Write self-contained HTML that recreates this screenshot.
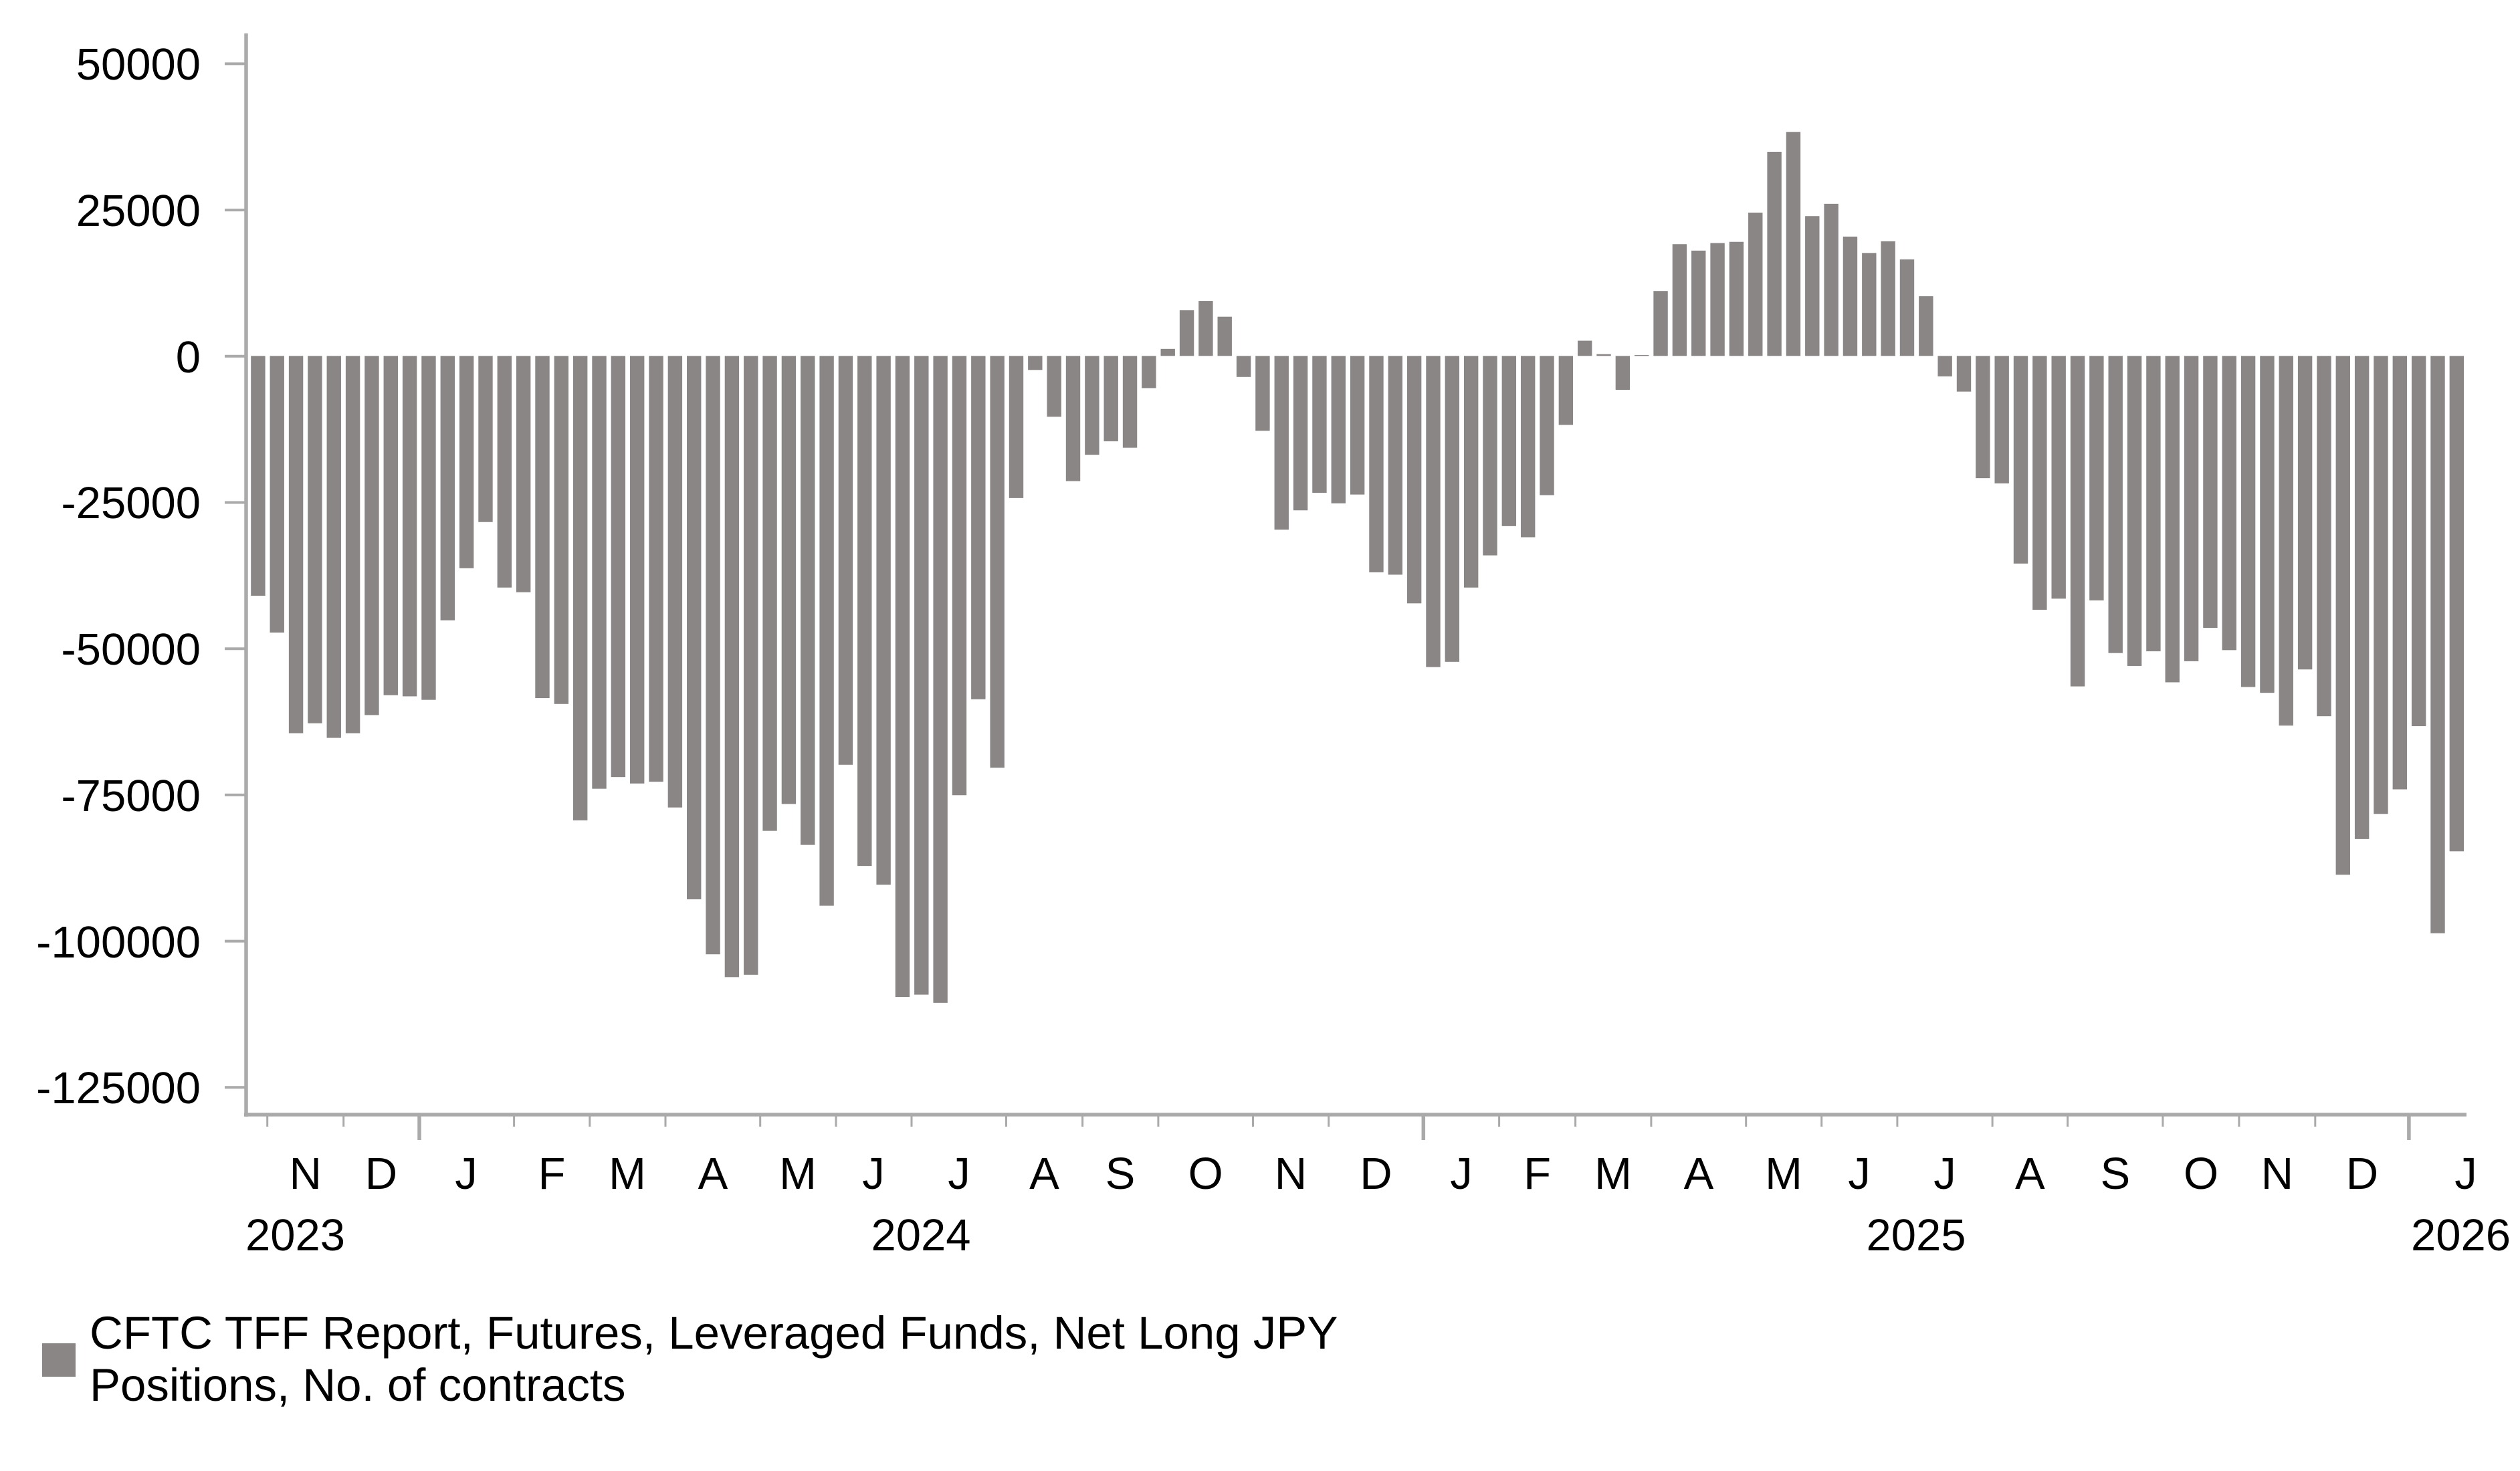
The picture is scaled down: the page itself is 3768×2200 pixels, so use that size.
<!DOCTYPE html>
<html><head><meta charset="utf-8"><style>
html,body{margin:0;padding:0;background:#fff;}
svg{display:block;}
text{font-family:"Liberation Sans",Arial,sans-serif;font-size:67px;fill:#000;}
.lg{font-size:69px;}
</style></head><body>
<svg width="3768" height="2200" viewBox="0 0 3768 2200" xmlns="http://www.w3.org/2000/svg">
<g fill="#8a8685" transform="translate(375.2,532.3) scale(28.34,-8.748)">
<rect x="0" y="-41.0" width="0.755" height="41.0"/>
<rect x="1" y="-47.3" width="0.755" height="47.3"/>
<rect x="2" y="-64.5" width="0.755" height="64.5"/>
<rect x="3" y="-62.8" width="0.755" height="62.8"/>
<rect x="4" y="-65.3" width="0.755" height="65.3"/>
<rect x="5" y="-64.5" width="0.755" height="64.5"/>
<rect x="6" y="-61.4" width="0.755" height="61.4"/>
<rect x="7" y="-58.0" width="0.755" height="58.0"/>
<rect x="8" y="-58.2" width="0.755" height="58.2"/>
<rect x="9" y="-58.8" width="0.755" height="58.8"/>
<rect x="10" y="-45.2" width="0.755" height="45.2"/>
<rect x="11" y="-36.3" width="0.755" height="36.3"/>
<rect x="12" y="-28.4" width="0.755" height="28.4"/>
<rect x="13" y="-39.6" width="0.755" height="39.6"/>
<rect x="14" y="-40.4" width="0.755" height="40.4"/>
<rect x="15" y="-58.5" width="0.755" height="58.5"/>
<rect x="16" y="-59.5" width="0.755" height="59.5"/>
<rect x="17" y="-79.4" width="0.755" height="79.4"/>
<rect x="18" y="-74.0" width="0.755" height="74.0"/>
<rect x="19" y="-72.0" width="0.755" height="72.0"/>
<rect x="20" y="-73.1" width="0.755" height="73.1"/>
<rect x="21" y="-72.8" width="0.755" height="72.8"/>
<rect x="22" y="-77.2" width="0.755" height="77.2"/>
<rect x="23" y="-92.9" width="0.755" height="92.9"/>
<rect x="24" y="-102.3" width="0.755" height="102.3"/>
<rect x="25" y="-106.2" width="0.755" height="106.2"/>
<rect x="26" y="-105.8" width="0.755" height="105.8"/>
<rect x="27" y="-81.2" width="0.755" height="81.2"/>
<rect x="28" y="-76.6" width="0.755" height="76.6"/>
<rect x="29" y="-83.6" width="0.755" height="83.6"/>
<rect x="30" y="-94.0" width="0.755" height="94.0"/>
<rect x="31" y="-69.9" width="0.755" height="69.9"/>
<rect x="32" y="-87.2" width="0.755" height="87.2"/>
<rect x="33" y="-90.4" width="0.755" height="90.4"/>
<rect x="34" y="-109.6" width="0.755" height="109.6"/>
<rect x="35" y="-109.2" width="0.755" height="109.2"/>
<rect x="36" y="-110.6" width="0.755" height="110.6"/>
<rect x="37" y="-75.1" width="0.755" height="75.1"/>
<rect x="38" y="-58.7" width="0.755" height="58.7"/>
<rect x="39" y="-70.4" width="0.755" height="70.4"/>
<rect x="40" y="-24.3" width="0.755" height="24.3"/>
<rect x="41" y="-2.4" width="0.755" height="2.4"/>
<rect x="42" y="-10.4" width="0.755" height="10.4"/>
<rect x="43" y="-21.4" width="0.755" height="21.4"/>
<rect x="44" y="-16.9" width="0.755" height="16.9"/>
<rect x="45" y="-14.6" width="0.755" height="14.6"/>
<rect x="46" y="-15.7" width="0.755" height="15.7"/>
<rect x="47" y="-5.5" width="0.755" height="5.5"/>
<rect x="48" y="0" width="0.755" height="1.2"/>
<rect x="49" y="0" width="0.755" height="7.8"/>
<rect x="50" y="0" width="0.755" height="9.4"/>
<rect x="51" y="0" width="0.755" height="6.7"/>
<rect x="52" y="-3.6" width="0.755" height="3.6"/>
<rect x="53" y="-12.8" width="0.755" height="12.8"/>
<rect x="54" y="-29.7" width="0.755" height="29.7"/>
<rect x="55" y="-26.4" width="0.755" height="26.4"/>
<rect x="56" y="-23.4" width="0.755" height="23.4"/>
<rect x="57" y="-25.2" width="0.755" height="25.2"/>
<rect x="58" y="-23.7" width="0.755" height="23.7"/>
<rect x="59" y="-37.0" width="0.755" height="37.0"/>
<rect x="60" y="-37.4" width="0.755" height="37.4"/>
<rect x="61" y="-42.3" width="0.755" height="42.3"/>
<rect x="62" y="-53.2" width="0.755" height="53.2"/>
<rect x="63" y="-52.3" width="0.755" height="52.3"/>
<rect x="64" y="-39.6" width="0.755" height="39.6"/>
<rect x="65" y="-34.1" width="0.755" height="34.1"/>
<rect x="66" y="-29.1" width="0.755" height="29.1"/>
<rect x="67" y="-31.0" width="0.755" height="31.0"/>
<rect x="68" y="-23.8" width="0.755" height="23.8"/>
<rect x="69" y="-11.8" width="0.755" height="11.8"/>
<rect x="70" y="0" width="0.755" height="2.6"/>
<rect x="71" y="0" width="0.755" height="0.3"/>
<rect x="72" y="-5.8" width="0.755" height="5.8"/>
<rect x="73" y="0" width="0.755" height="0.15"/>
<rect x="74" y="0" width="0.755" height="11.1"/>
<rect x="75" y="0" width="0.755" height="19.1"/>
<rect x="76" y="0" width="0.755" height="18.0"/>
<rect x="77" y="0" width="0.755" height="19.3"/>
<rect x="78" y="0" width="0.755" height="19.5"/>
<rect x="79" y="0" width="0.755" height="24.5"/>
<rect x="80" y="0" width="0.755" height="34.9"/>
<rect x="81" y="0" width="0.755" height="38.3"/>
<rect x="82" y="0" width="0.755" height="23.9"/>
<rect x="83" y="0" width="0.755" height="26.0"/>
<rect x="84" y="0" width="0.755" height="20.4"/>
<rect x="85" y="0" width="0.755" height="17.6"/>
<rect x="86" y="0" width="0.755" height="19.6"/>
<rect x="87" y="0" width="0.755" height="16.5"/>
<rect x="88" y="0" width="0.755" height="10.2"/>
<rect x="89" y="-3.5" width="0.755" height="3.5"/>
<rect x="90" y="-6.1" width="0.755" height="6.1"/>
<rect x="91" y="-20.9" width="0.755" height="20.9"/>
<rect x="92" y="-21.8" width="0.755" height="21.8"/>
<rect x="93" y="-35.5" width="0.755" height="35.5"/>
<rect x="94" y="-43.4" width="0.755" height="43.4"/>
<rect x="95" y="-41.5" width="0.755" height="41.5"/>
<rect x="96" y="-56.5" width="0.755" height="56.5"/>
<rect x="97" y="-41.8" width="0.755" height="41.8"/>
<rect x="98" y="-50.8" width="0.755" height="50.8"/>
<rect x="99" y="-53.0" width="0.755" height="53.0"/>
<rect x="100" y="-50.5" width="0.755" height="50.5"/>
<rect x="101" y="-55.8" width="0.755" height="55.8"/>
<rect x="102" y="-52.2" width="0.755" height="52.2"/>
<rect x="103" y="-46.5" width="0.755" height="46.5"/>
<rect x="104" y="-50.3" width="0.755" height="50.3"/>
<rect x="105" y="-56.6" width="0.755" height="56.6"/>
<rect x="106" y="-57.6" width="0.755" height="57.6"/>
<rect x="107" y="-63.2" width="0.755" height="63.2"/>
<rect x="108" y="-53.6" width="0.755" height="53.6"/>
<rect x="109" y="-61.6" width="0.755" height="61.6"/>
<rect x="110" y="-88.7" width="0.755" height="88.7"/>
<rect x="111" y="-82.6" width="0.755" height="82.6"/>
<rect x="112" y="-78.3" width="0.755" height="78.3"/>
<rect x="113" y="-74.1" width="0.755" height="74.1"/>
<rect x="114" y="-63.3" width="0.755" height="63.3"/>
<rect x="115" y="-98.7" width="0.755" height="98.7"/>
<rect x="116" y="-84.7" width="0.755" height="84.7"/>
</g>
<g stroke="#aaaaaa" fill="none">
<line x1="368" y1="50" x2="368" y2="1670" stroke-width="5.5"/>
<line x1="365" y1="1667" x2="3688" y2="1667" stroke-width="5.5"/>
<g stroke-width="4">
<line x1="336" y1="95.4" x2="368" y2="95.4"/>
<line x1="336" y1="314.1" x2="368" y2="314.1"/>
<line x1="336" y1="532.8" x2="368" y2="532.8"/>
<line x1="336" y1="751.5" x2="368" y2="751.5"/>
<line x1="336" y1="970.2" x2="368" y2="970.2"/>
<line x1="336" y1="1188.9" x2="368" y2="1188.9"/>
<line x1="336" y1="1407.6" x2="368" y2="1407.6"/>
<line x1="336" y1="1626.3" x2="368" y2="1626.3"/>
</g>
<g stroke-width="3">
<line x1="399.7" y1="1667" x2="399.7" y2="1685"/>
<line x1="513.7" y1="1667" x2="513.7" y2="1685"/>
<line x1="768.6" y1="1667" x2="768.6" y2="1685"/>
<line x1="881.8" y1="1667" x2="881.8" y2="1685"/>
<line x1="995" y1="1667" x2="995" y2="1685"/>
<line x1="1136.7" y1="1667" x2="1136.7" y2="1685"/>
<line x1="1250" y1="1667" x2="1250" y2="1685"/>
<line x1="1363" y1="1667" x2="1363" y2="1685"/>
<line x1="1504.5" y1="1667" x2="1504.5" y2="1685"/>
<line x1="1618.6" y1="1667" x2="1618.6" y2="1685"/>
<line x1="1731.9" y1="1667" x2="1731.9" y2="1685"/>
<line x1="1873.5" y1="1667" x2="1873.5" y2="1685"/>
<line x1="1986.7" y1="1667" x2="1986.7" y2="1685"/>
<line x1="2241.6" y1="1667" x2="2241.6" y2="1685"/>
<line x1="2355.6" y1="1667" x2="2355.6" y2="1685"/>
<line x1="2468.9" y1="1667" x2="2468.9" y2="1685"/>
<line x1="2610.7" y1="1667" x2="2610.7" y2="1685"/>
<line x1="2723.7" y1="1667" x2="2723.7" y2="1685"/>
<line x1="2836.9" y1="1667" x2="2836.9" y2="1685"/>
<line x1="2979.1" y1="1667" x2="2979.1" y2="1685"/>
<line x1="3091.6" y1="1667" x2="3091.6" y2="1685"/>
<line x1="3233.9" y1="1667" x2="3233.9" y2="1685"/>
<line x1="3347.9" y1="1667" x2="3347.9" y2="1685"/>
<line x1="3461.8" y1="1667" x2="3461.8" y2="1685"/>
</g>
<g stroke-width="5.5">
<line x1="627" y1="1667" x2="627" y2="1705"/>
<line x1="2128.3" y1="1667" x2="2128.3" y2="1705"/>
<line x1="3601.9" y1="1667" x2="3601.9" y2="1705"/>
</g>
</g>
<g text-anchor="end">
<text x="300" y="119">50000</text>
<text x="300" y="338">25000</text>
<text x="300" y="557">0</text>
<text x="300" y="775">-25000</text>
<text x="300" y="994">-50000</text>
<text x="300" y="1213">-75000</text>
<text x="300" y="1432">-100000</text>
<text x="300" y="1650">-125000</text>
</g>
<g text-anchor="middle">
<text x="456.7" y="1778">N</text>
<text x="570" y="1778">D</text>
<text x="697" y="1778">J</text>
<text x="825" y="1778">F</text>
<text x="938" y="1778">M</text>
<text x="1066" y="1778">A</text>
<text x="1193" y="1778">M</text>
<text x="1306" y="1778">J</text>
<text x="1434" y="1778">J</text>
<text x="1561.5" y="1778">A</text>
<text x="1675" y="1778">S</text>
<text x="1802.7" y="1778">O</text>
<text x="1930" y="1778">N</text>
<text x="2057.5" y="1778">D</text>
<text x="2185" y="1778">J</text>
<text x="2298.6" y="1778">F</text>
<text x="2412" y="1778">M</text>
<text x="2540" y="1778">A</text>
<text x="2667" y="1778">M</text>
<text x="2780" y="1778">J</text>
<text x="2908" y="1778">J</text>
<text x="3035.3" y="1778">A</text>
<text x="3162.8" y="1778">S</text>
<text x="3291" y="1778">O</text>
<text x="3405" y="1778">N</text>
<text x="3532" y="1778">D</text>
<text x="3687" y="1778">J</text>
<text x="1377" y="1870">2024</text>
<text x="2865" y="1870">2025</text>
</g>
<text x="367" y="1870">2023</text>
<text x="3605" y="1870">2026</text>
<rect x="63" y="2009" width="50" height="50" fill="#8a8685"/>
<text class="lg" x="134" y="2017">CFTC TFF Report, Futures, Leveraged Funds, Net Long JPY</text>
<text class="lg" x="134" y="2095">Positions, No. of contracts</text>
</svg>
</body></html>
